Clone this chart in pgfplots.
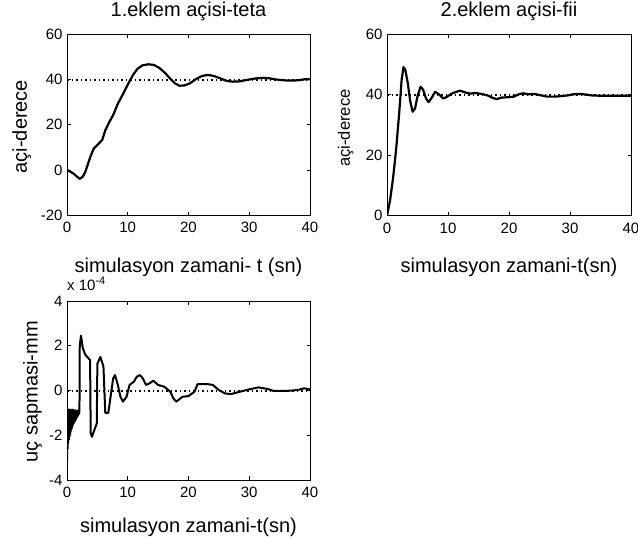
\documentclass[border=0pt]{standalone}
\usepackage{fontspec}
\setmainfont{Liberation Sans}
\usepackage{pgfplots}
\pgfplotsset{compat=1.18}
\newcommand{\tickfont}{\fontsize{15bp}{18bp}\selectfont}
\newcommand{\labfont}{\fontsize{20bp}{24bp}\selectfont}
\newcommand{\smlabfont}{\fontsize{16.5bp}{20bp}\selectfont}
\pgfplotsset{
  myax/.style={
    scale only axis,
    xmin=0, xmax=40,
    xtick={0,10,20,30,40},
    tick align=inside,
    major tick length=3.5bp,
    axis line style={line width=0.75bp},
    every tick/.style={line width=0.75bp, black},
    tick label style={font=\tickfont},
    /pgf/number format/assume math mode=true,
    xticklabel style={yshift=-4bp},
    yticklabel style={xshift=-1bp},
    title style={font=\labfont, at={(axis description cs:0.5,1.066)}, anchor=base},
    label style={font=\labfont},
    clip mode=individual,
  },
  curve/.style={black, line width=2.2bp, line join=round},
  ref/.style={black, line width=2bp, dash pattern=on 1.8bp off 2.7bp},
}
\begin{document}
\begin{tikzpicture}
\useasboundingbox (0,0) rectangle (638bp,-539bp);

% ---------- top left ----------
\begin{axis}[myax,
  at={(67bp,-34.5bp)}, anchor=north west,
  width=243bp, height=180.5bp,
  ymin=-20, ymax=60, ytick={-20,0,20,40,60},
  title={1.eklem açisi-teta},
  xlabel={simulasyon zamani- t (sn)},
  ylabel={açi-derece},
  xlabel style={at={(axis description cs:0.5,-0.316)}, anchor=base},
  ylabel style={at={(axis description cs:-0.165,0.49)}, anchor=base},
]
\addplot[ref] coordinates {(0,40) (40,40)};
\addplot[curve] coordinates {
(0,0)(1,-1.5)(2.1,-4)(2.6,-3)(3,-1)(3.5,3)(3.9,6.2)(4.4,9.4)(5.2,11.6)(5.8,13.3)
(6.3,17.5)(7,21.4)(7.6,24.3)(8.4,29.5)(9.3,34)(10.1,38.3)(10.9,42.2)(11.6,44.8)
(12.4,46.3)(13.4,46.8)(14.3,46.5)(15.2,45.2)(16.2,42.8)(17,40.4)(17.8,38.3)
(18.5,37.3)(19.3,37.4)(20.2,38.3)(21.2,40.2)(22.2,41.6)(23.2,42.1)(24.2,41.6)
(25.2,40.6)(26.2,39.5)(27.2,39.1)(28.3,39.2)(29.3,39.7)(30.3,40.2)(31.3,40.6)
(32.3,40.8)(33.3,40.6)(34.3,40.1)(35.3,39.8)(36.3,39.6)(37.3,39.6)(38.3,39.8)
(39.2,40.2)(40,40.1)};
\end{axis}

% ---------- top right ----------
\begin{axis}[myax,
  at={(387bp,-34.5bp)}, anchor=north west,
  width=244bp, height=181bp,
  ymin=0, ymax=60, ytick={0,20,40,60},
  title={2.eklem açisi-fii},
  xlabel={simulasyon zamani-t(sn)},
  ylabel={açi-derece},
  xlabel style={at={(axis description cs:0.5,-0.315)}, anchor=base},
  ylabel style={font=\smlabfont, at={(axis description cs:-0.152,0.483)}, anchor=base},
]
\addplot[ref] coordinates {(0,40) (40,40)};
\addplot[curve] coordinates {
(0,0)(0.5,5)(1,12.5)(1.5,22)(2,34)(2.4,45)(2.7,49.2)(3.0,48.3)(3.4,44)(3.8,38)
(4.2,34.4)(4.6,35.5)(5.0,39.5)(5.5,42.7)(5.9,41.8)(6.4,38.8)(6.8,37.6)(7.3,38.9)
(7.9,41)(8.5,40.2)(9.2,38.8)(9.8,39.3)(10.5,40.3)(11.2,40.9)(12,41.4)(12.8,40.8)
(13.6,40.4)(14.5,40.6)(15.5,40.3)(16.5,39.8)(17.3,39.0)(18,38.6)(18.8,39.1)
(19.8,39.2)(20.8,39.4)(21.6,40.2)(22.3,40.5)(23.2,40.2)(24.2,40.3)(25.3,39.8)
(26.3,39.4)(27.5,39.4)(28.6,39.6)(29.6,39.8)(30.6,40.2)(31.6,40.3)(32.6,40.1)
(33.6,39.8)(35,39.7)(37,39.7)(40,39.7)};
\end{axis}

% ---------- bottom left ----------
\begin{axis}[myax,
  at={(67bp,-301bp)}, anchor=north west,
  width=243bp, height=179bp,
  ymin=-4, ymax=4, ytick={-4,-2,0,2,4},
  xlabel={simulasyon zamani-t(sn)},
  ylabel={uç sapmasi-mm},
  xlabel style={at={(axis description cs:0.5,-0.296)}, anchor=base},
  ylabel style={at={(axis description cs:-0.121,0.494)}, anchor=base},
]
\addplot[ref] coordinates {(0,0) (40,0)};
\addplot[curve, line width=2bp] coordinates {
(0,-3.1)(0.05,-0.85)(0.1,-2.6)(0.15,-0.9)(0.2,-2.35)(0.25,-0.85)(0.3,-2.2)(0.35,-0.9)
(0.4,-2.05)(0.45,-0.85)(0.5,-1.95)(0.55,-0.9)(0.6,-1.85)(0.65,-0.85)(0.7,-1.75)
(0.75,-0.9)(0.8,-1.68)(0.85,-0.9)(0.9,-1.6)(0.95,-0.85)(1.0,-1.52)(1.05,-0.9)
(1.1,-1.47)(1.15,-0.9)(1.2,-1.42)(1.25,-0.88)(1.3,-1.37)(1.35,-0.9)(1.4,-1.32)
(1.45,-0.9)(1.5,-1.27)(1.55,-0.9)(1.6,-1.22)(1.65,-0.9)(1.7,-1.17)(1.75,-0.9)
(1.8,-1.12)(1.85,-0.9)(1.9,-1.07)(1.95,-0.9)(2.0,-1.02)(2.05,-0.9)
(2.1,2.0)(2.3,2.45)(2.6,1.9)(3.0,1.6)(3.5,1.45)(3.8,1.36)(3.9,-1.9)(4.1,-2.07)
(4.5,-1.77)(4.9,-1.47)(5.0,1.2)(5.5,1.5)(6.0,1.07)(6.3,-1.0)(6.8,-1.0)(7.1,-0.42)
(7.6,0.54)(7.9,0.69)(8.3,0.32)(8.8,-0.28)(9.2,-0.5)(9.8,-0.28)(10.3,0.25)(11,0.39)
(11.5,0.62)(12,0.69)(12.5,0.54)(13,0.25)(13.6,0.32)(14.2,0.44)(15,0.25)(16,0.17)
(17,-0.05)(17.5,-0.35)(18,-0.5)(19,-0.28)(20,-0.25)(21,-0.05)(21.5,0.29)(23,0.29)
(24,0.25)(25,0.02)(26,-0.13)(27,-0.16)(28.5,-0.05)(30,0.05)(31.5,0.14)(33,0.07)
(34,-0.02)(36,-0.02)(38,0.02)(39,0.1)(40,0.05)};
\node[font=\tickfont, anchor=base west, inner sep=0pt] at (axis description cs:0,1.061)
  {x 10\raisebox{6bp}{\fontsize{11bp}{12bp}\selectfont -4}};
\end{axis}
\end{tikzpicture}
\end{document}
